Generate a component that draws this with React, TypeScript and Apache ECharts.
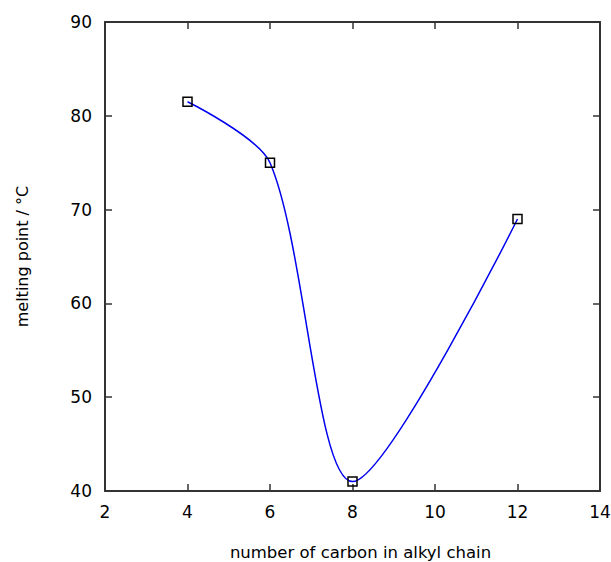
import React, { useEffect, useRef } from "react";
import * as echarts from "echarts";

const carbonNumbers = [4, 6, 8, 12];
const meltingPoints = [81.5, 75, 41, 69];
const xTicks = { min: 2, max: 14, interval: 2 };
const yTicks = { min: 40, max: 90, interval: 10 };

export default function App() {
  const ref = useRef<HTMLDivElement>(null);
  useEffect(() => {
    if (!ref.current) return;
    const chart = echarts.init(ref.current, null, { renderer: "svg" });
    const axisLine = { show: true, lineStyle: { color: "#333", width: 2 } };
    const axisTick = { show: true, inside: true, length: 7, lineStyle: { color: "#333", width: 1.5 } };
    const font = "DejaVu Sans, sans-serif";
    chart.setOption({
      animation: false,
      backgroundColor: "#fff",
      grid: { left: 105, right: 11, top: 22, bottom: 71, containLabel: false, outerBoundsMode: "none" },
      xAxis: [
        {
          type: "value",
          min: xTicks.min,
          max: xTicks.max,
          interval: xTicks.interval,
          position: "bottom",
          axisLine,
          axisTick,
          splitLine: { show: false },
          axisLabel: { color: "#000", fontSize: 17, fontFamily: font, margin: 12 },
          name: "number of carbon in alkyl chain",
          nameLocation: "middle",
          nameGap: 53,
          nameTextStyle: { color: "#000", fontSize: 16.5, fontFamily: font, padding: [0, 0, 0, 16] },
        },
        {
          type: "value",
          min: xTicks.min,
          max: xTicks.max,
          interval: xTicks.interval,
          position: "top",
          axisLine,
          axisTick,
          splitLine: { show: false },
          axisLabel: { show: false },
        },
      ],
      yAxis: [
        {
          type: "value",
          min: yTicks.min,
          max: yTicks.max,
          interval: yTicks.interval,
          position: "left",
          axisLine,
          axisTick,
          splitLine: { show: false },
          axisLabel: { color: "#000", fontSize: 17, fontFamily: font, margin: 13 },
          name: "melting point / °C",
          nameLocation: "middle",
          nameGap: 75,
          nameTextStyle: { color: "#000", fontSize: 16, fontFamily: font },
        },
        {
          type: "value",
          min: yTicks.min,
          max: yTicks.max,
          interval: yTicks.interval,
          position: "right",
          axisLine,
          axisTick,
          splitLine: { show: false },
          axisLabel: { show: false },
        },
      ],
      series: [
        {
          type: "line",
          data: carbonNumbers.map((c, i) => [c, meltingPoints[i]]),
          smooth: 0.28,
          symbol: "rect",
          symbolSize: 9,
          showAllSymbol: true,
          lineStyle: { color: "#0000ee", width: 1.5 },
          itemStyle: { color: "rgba(0,0,0,0)", borderColor: "#000", borderWidth: 1.5 },
          z: 3,
        },
      ],
    });
    return () => chart.dispose();
  }, []);
  return <div ref={ref} style={{ width: 611, height: 562, position: "absolute", left: 0, top: 0 }} />;
}
